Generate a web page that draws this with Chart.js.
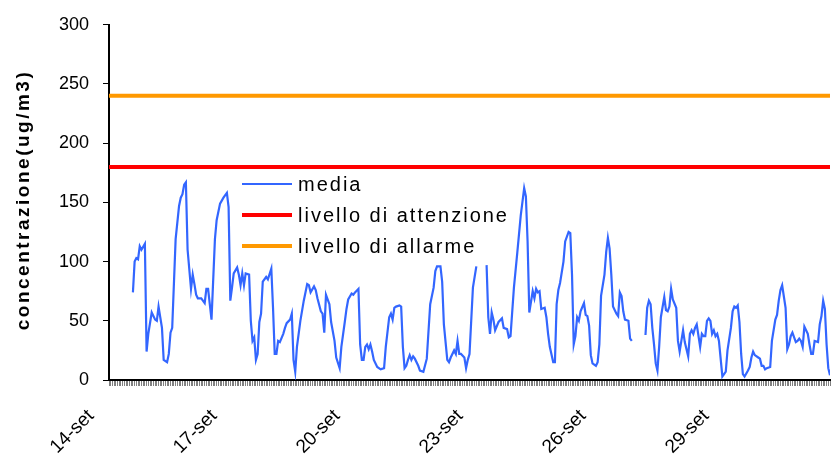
<!DOCTYPE html>
<html>
<head>
<meta charset="utf-8">
<title>concentrazione media</title>
<script src="https://cdn.jsdelivr.net/npm/chart.js@4/dist/chart.umd.min.js"></script>
<style>
  html, body { margin: 0; padding: 0; background: #fff; }
  canvas { display: block; }
</style>
</head>
<body>
<canvas id="grafico" width="831" height="460"></canvas>
<script>
// Ore trascorse dal 14-set 00:00 e concentrazione media oraria (ug/m3)
// null = dato mancante (interruzione della linea)
const ore = [
  14, 15, 16, 17, 18, 19, 21, 22, 23, 25, 27, 28, 29, 30, 31, 32, 34, 35, 36, 37,
  39, 41, 42, 43, 44, 45, 46, 48, 49, 50, 51, 52, 54, 56, 57, 58, 60, 62, 63, 65,
  67, 69, 70, 71, 72, 73, 75, 76, 77, 78, 79, 80, 82, 83, 84, 85, 86, 87, 88, 89,
  90, 92, 93, 95, 96, 97, 98, 99, 100, 102, 103, 104, 106, 107, 108, 109, 110, 112, 114, 116,
  117, 118, 120, 121, 122, 124, 125, 126, 127, 129, 130, 132, 133, 135, 136, 138, 139, 140, 142, 143,
  144, 146, 147, 148, 149, 150, 151, 152, 153, 154, 155, 157, 159, 161, 162, 164, 165, 166, 167, 168,
  170, 171, 172, 173, 174, 175, 176, 177, 178, 179, 181, 182, 184, 186, 188, 190, 191, 192, 194, 195,
  196, 198, 199, 200, 202, 203, 204, 205, 206, 208, 209, 210, 211, 213, 215, 216, 221, 222, 223, 224,
  225, 226, 228, 230, 231, 233, 234, 235, 237, 239, 241, 243, 244, 245, 246, 248, 249, 250, 251, 252,
  253, 255, 256, 257, 258, 260, 261, 262, 263, 264, 266, 267, 269, 270, 271, 272, 273, 274, 275, 276,
  278, 279, 280, 281, 282, 283, 285, 286, 287, 288, 290, 291, 292, 293, 294, 295, 297, 298, 299, 300,
  301, 302, 304, 305, 306, 307, 314, 315, 316, 317, 318, 319, 320, 321, 322, 323, 325, 326, 327, 328,
  329, 330, 332, 333, 334, 335, 336, 337, 339, 340, 341, 342, 343, 344, 346, 347, 348, 349, 350, 351,
  352, 353, 354, 355, 356, 357, 359, 360, 361, 362, 364, 365, 366, 367, 368, 369, 370, 371, 372, 374,
  375, 376, 377, 378, 380, 381, 382, 383, 384, 385, 387, 388, 390, 391, 392, 393, 394, 396, 397, 398,
  399, 400, 402, 403, 404, 405, 406, 407, 409, 410, 411, 412, 413, 415, 416, 417, 418, 419, 420, 421,
  422
];
const media = [
  74, 100, 103, 102, 113, 110, 115, 24, 39, 57, 51, 50, 62, 53, 44, 17, 15, 22, 40, 44,
  119, 147, 154, 157, 165, 167, 110, 77, 89, 81, 72, 69, 69, 65, 77, 77, 51, 119, 135, 149,
  154, 158, 146, 67, 78, 90, 95, 89, 80, 90, 80, 90, 89, 50, 33, 36, 17, 22, 49, 56,
  83, 87, 85, 94, 61, 22, 22, 33, 32, 39, 44, 48, 51, 56, 17, 7, 28, 50, 67, 81,
  80, 74, 79, 76, 69, 58, 56, 40, 72, 64, 49, 33, 19, 10, 28, 49, 60, 68, 73, 72,
  74, 77, 30, 17, 17, 28, 30, 26, 30, 24, 17, 11, 9, 10, 28, 53, 56, 51, 61, 62,
  63, 62, 28, 10, 12, 17, 21, 17, 20, 18, 12, 8, 7, 18, 64, 78, 92, 96, 96, 83,
  47, 17, 15, 19, 25, 22, 33, 22, 22, 19, 10, 17, 22, 78, 96, null, 97, 53, 39, 57,
  51, 42, 49, 52, 44, 43, 36, 37, 78, 108, 139, 162, 155, 117, 57, 75, 69, 77, 74, 75,
  60, 61, 53, 39, 28, 15, 15, 64, 76, 82, 100, 117, 125, 124, 89, 30, 37, 53, 50, 58,
  65, 55, 54, 46, 21, 14, 12, 15, 30, 71, 89, 108, 120, 111, 89, 62, 56, 54, 74, 71,
  58, 51, 50, 35, 33, null, 38, 61, 67, 64, 44, 30, 14, 8, 28, 53, 70, 59, 58, 62,
  77, 68, 61, 33, 24, 33, 42, 32, 20, 39, 42, 39, 44, 47, 28, 39, 37, 37, 50, 52,
  50, 39, 42, 37, 39, 33, 3, 5, 7, 25, 44, 58, 62, 61, 63, 49, 22, 5, 3, 8,
  11, 19, 24, 21, 19, 18, 12, 12, 9, 10, 11, 33, 51, 55, 67, 76, 80, 61, 26, 30,
  37, 40, 32, 33, 35, 33, 28, 45, 39, 30, 22, 22, 33, 32, 47, 54, 67, 60, 30, 10,
  4
];
const oreEtichette = [0, 72, 144, 216, 288, 360];
const etichetteGiorni = ['14-set', '17-set', '20-set', '23-set', '26-set', '29-set'];
const oraMax = 422;
const sogliaAttenzione = 180;
const sogliaAllarme = 240;
const tickY = [0, 50, 100, 150, 200, 250, 300];

const BLU = '#3366FF';
const ROSSO = '#FF0000';
const ARANCIO = '#FF9900';
const FONT = '"Liberation Sans", Arial, sans-serif';

// Legenda disegnata dentro l'area del grafico, come nell'originale
const legendaInterna = {
  id: 'legendaInterna',
  afterDraw(chart) {
    const ctx = chart.ctx;
    const voci = chart.data.datasets;
    ctx.save();
    ctx.font = '20px ' + FONT;
    ctx.letterSpacing = '2px';
    ctx.textBaseline = 'middle';
    ctx.fillStyle = '#000';
    voci.forEach((ds, i) => {
      const y = 184 + i * 31;
      ctx.strokeStyle = ds.borderColor;
      ctx.lineWidth = ds.borderWidth;
      ctx.beginPath();
      ctx.moveTo(242, y);
      ctx.lineTo(292, y);
      ctx.stroke();
      ctx.fillText(ds.label, 298, y + 1);
    });
    ctx.restore();
  }
};

// Titolo asse verticale in grassetto
const titoloY = {
  id: 'titoloY',
  afterDraw(chart) {
    const ctx = chart.ctx;
    ctx.save();
    ctx.translate(24, 200);
    ctx.rotate(-Math.PI / 2);
    ctx.font = 'bold 19px ' + FONT;
    ctx.letterSpacing = '2.5px';
    ctx.textAlign = 'center';
    ctx.textBaseline = 'middle';
    ctx.fillStyle = '#000';
    ctx.fillText('concentrazione(ug/m3)', 0, 0);
    ctx.restore();
  }
};

new Chart(document.getElementById('grafico'), {
  type: 'line',
  data: {
    datasets: [
      {
        label: 'media',
        data: ore.map((x, i) => ({ x: x, y: media[i] })),
        borderColor: BLU,
        borderWidth: 2.2,
        pointRadius: 0,
        spanGaps: false,
        tension: 0
      },
      {
        label: 'livello di attenzione',
        data: [{ x: 0, y: sogliaAttenzione }, { x: oraMax, y: sogliaAttenzione }],
        borderColor: ROSSO,
        borderWidth: 4,
        pointRadius: 0
      },
      {
        label: 'livello di allarme',
        data: [{ x: 0, y: sogliaAllarme }, { x: oraMax, y: sogliaAllarme }],
        borderColor: ARANCIO,
        borderWidth: 4,
        pointRadius: 0
      }
    ]
  },
  options: {
    responsive: false,
    animation: false,
    devicePixelRatio: 1,
    layout: { padding: { top: 20, right: 1, left: 0, bottom: 0 } },
    plugins: {
      legend: { display: false },
      tooltip: { enabled: false }
    },
    scales: {
      x: {
        type: 'linear',
        min: 0,
        max: oraMax,
        afterFit: (s) => {
          s.height = 80;
          s.paddingLeft = 0;
          s.paddingRight = 0;
        },
        afterBuildTicks: (s) => {
          s.ticks = [];
          for (let h = 0; h <= oraMax; h++) s.ticks.push({ value: h });
        },
        ticks: {
          autoSkip: false,
          maxRotation: 45,
          minRotation: 45,
          padding: 19,
          labelOffset: -18,
          color: '#000',
          font: { family: FONT, size: 19 },
          callback: (v) => {
            const i = oreEtichette.indexOf(v);
            return i >= 0 ? etichetteGiorni[i] : '';
          }
        },
        grid: {
          drawOnChartArea: false,
          drawTicks: true,
          tickLength: 6,
          color: '#808080',
          lineWidth: 1
        },
        border: { display: true, color: '#000', width: 2 }
      },
      y: {
        min: 0,
        max: 300,
        afterFit: (s) => { s.width = 109; },
        afterBuildTicks: (s) => { s.ticks = tickY.map((v) => ({ value: v })); },
        ticks: {
          padding: 14,
          color: '#000',
          font: { family: FONT, size: 18 }
        },
        grid: {
          drawOnChartArea: false,
          drawTicks: true,
          tickLength: 6,
          color: '#000'
        },
        border: { display: true, color: '#000', width: 2 }
      }
    }
  },
  plugins: [legendaInterna, titoloY]
});
</script>
</body>
</html>
